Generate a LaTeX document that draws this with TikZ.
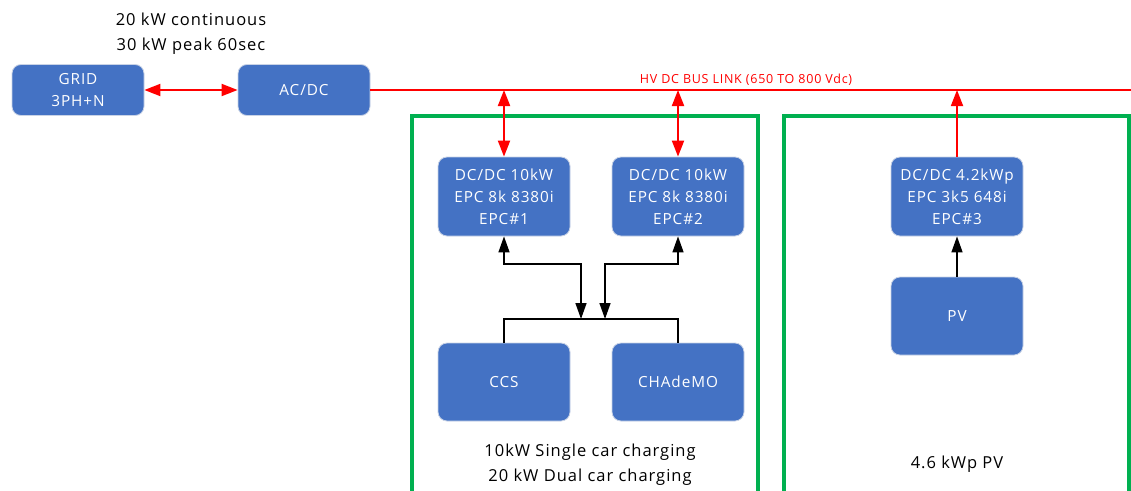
\documentclass[tikz,border=0pt]{standalone}
\usepackage{fontspec}
\setmainfont{Open Sans}[LetterSpace=6]
\usetikzlibrary{arrows.meta}
\definecolor{boxblue}{HTML}{4472C4}
\definecolor{boxedge}{HTML}{C9D3E6}
\definecolor{grn}{HTML}{00B050}
\definecolor{bred}{HTML}{FF0000}
\begin{document}
\begin{tikzpicture}[x=1pt,y=-1pt,
  blk/.style={fill=boxblue,draw=boxedge,line width=0.8pt,rounded corners=9pt,
    minimum width=132pt,text=white,align=center,inner sep=0pt,
    font=\fontsize{15.3}{22}\selectfont},
  small/.style={blk,minimum height=51pt},
  tall/.style={blk,minimum height=79pt},
  tipr/.tip={Triangle[length=16pt,width=12pt]},
  tipb/.tip={Triangle[length=16pt,width=11pt]},
  redarr/.style={color=bred,line width=2pt,tipr-tipr},
  redone/.style={color=bred,line width=1.7pt,-tipr},
  blkarr/.style={color=black,line width=1.5pt,tipb-tipb},
  blkone/.style={color=black,line width=1.5pt,-tipb},
  blkline/.style={color=black,line width=1.5pt},
  grnbox/.style={draw=grn,line width=4pt},
  captxt/.style={align=center,text=black,inner sep=0pt,font=\fontsize{16.5}{24.5}\selectfont}]
\fill[white] (0,0) rectangle (1131,490);
\useasboundingbox (0,0) rectangle (1131,490);

% green frames
\draw[grnbox] (412,495) -- (412,116) -- (758,116) -- (758,495);
\draw[grnbox] (784,495) -- (784,116) -- (1129,116) -- (1129,495);

% nodes
\node[small] (grid) at (78,90) {GRID\\3PH+N};
\node[small] (acdc) at (304,90) {AC/DC};
\node[tall] (e1) at (504,196.5) {DC/DC 10kW\\EPC 8k 8380i\\EPC\#1};
\node[tall] (e2) at (678,196.5) {DC/DC 10kW\\EPC 8k 8380i\\EPC\#2};
\node[tall] (e3) at (957,196.5) {DC/DC 4.2kWp\\EPC 3k5 648i\\EPC\#3};
\node[tall,minimum height=78pt] (ccs) at (504,382) {CCS};
\node[tall,minimum height=78pt] (chad) at (678,382) {CHAdeMO};
\node[tall,minimum height=78pt] (pv) at (957,316) {PV};

% captions
\node[captxt] (c1) at (191,33.5) {20 kW continuous\\30 kW peak 60sec};
\node[captxt] (c2) at (590,464.5) {10kW Single car charging\\20 kW Dual car charging};
\node[captxt] (c3) at (957,464) {4.6 kWp PV};

% bus
\coordinate (busend) at (1131,90);
\draw[color=bred,line width=1.6pt] (acdc.east |- busend) -- (busend);
\node[text=bred,inner sep=0pt,font=\fontsize{12.5}{14}\selectfont] (buslbl) at (746,80) {HV DC BUS LINK (650 TO 800 Vdc)};
\coordinate (bus1) at (504,90);
\coordinate (bus2) at (678,90);
\coordinate (bus3) at (957,90);

% red connectors
\draw[redarr] (grid.east) -- (acdc.west);
\draw[redarr] (bus1) -- (e1.north);
\draw[redarr] (bus2) -- (e2.north);
\draw[redone] (e3.north) -- (bus3);

% black connectors
\coordinate (j1) at (581,319);
\coordinate (j2) at (605,319);
\coordinate (b1) at (504,319);
\coordinate (b2) at (678,319);
\draw[blkarr] (e1.south) -- (e1.south |- 0,264) -| (j1);
\draw[blkarr] (e2.south) -- (e2.south |- 0,264) -| (j2);
\draw[blkline] (ccs.north) -- (b1) -- (b2) -- (chad.north);
\draw[blkone] (pv.north) -- (e3.south);
\end{tikzpicture}
\end{document}
